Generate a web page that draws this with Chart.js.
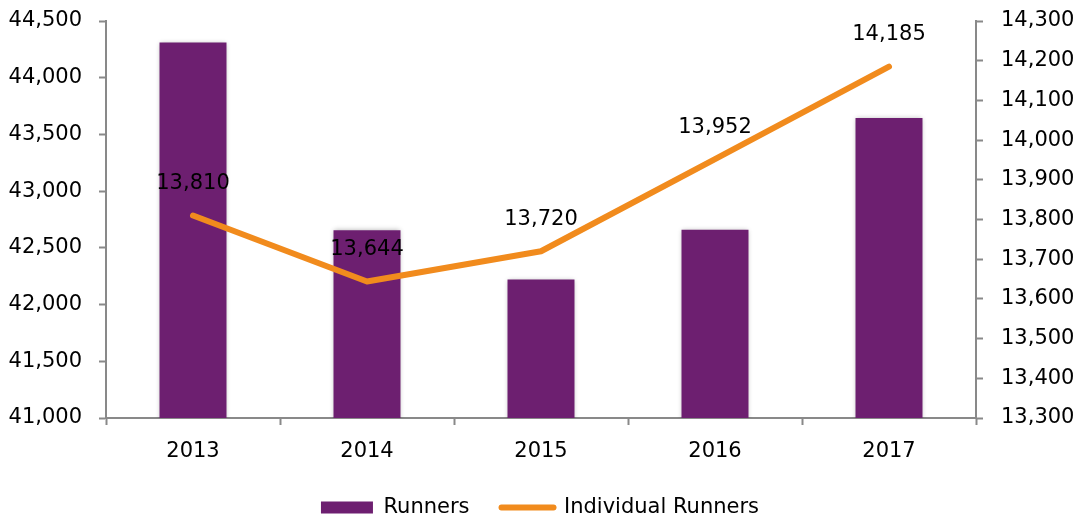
<!DOCTYPE html>
<html>
<head>
<meta charset="utf-8">
<script src="https://cdn.jsdelivr.net/npm/chart.js@4/dist/chart.umd.min.js"></script>
<style>
  html, body { margin: 0; padding: 0; background: #fff; }
  #wrap { width: 1080px; height: 519px; position: relative; }
</style>
</head>
<body>
<div id="wrap"><canvas id="runnersChart"></canvas></div>
<script>
const years = ["2013", "2014", "2015", "2016", "2017"];
const runners = [44310, 42655, 42220, 42660, 43645];
const individualRunners = [13810, 13644, 13720, 13952, 14185];

const purple = "#6D1F70";
const orange = "#F18B1D";
const axisGrey = "#898989";
const fontFamily = "'DejaVu Sans', sans-serif";

const fmt = v => v.toLocaleString("en-US");

// soft shadow round the bars
const barShadow = {
    id: "barShadow",
    beforeDatasetDraw(chart, args) {
        if (args.index !== 0) return;
        const ctx = chart.ctx;
        ctx.save();
        ctx.shadowColor = "rgba(0,0,0,0.3)";
        ctx.shadowBlur = 5;
    },
    afterDatasetDraw(chart, args) {
        if (args.index !== 0) return;
        chart.ctx.restore();
    }
};

// value labels above the line points
const lineLabels = {
    id: "lineLabels",
    afterDatasetsDraw(chart) {
        const ctx = chart.ctx;
        const meta = chart.getDatasetMeta(1);
        ctx.save();
        ctx.font = "21px " + fontFamily;
        ctx.fillStyle = "#000";
        ctx.textAlign = "center";
        ctx.textBaseline = "middle";
        meta.data.forEach((pt, i) => {
            ctx.fillText(fmt(individualRunners[i]), pt.x, pt.y - 32);
        });
        ctx.restore();
    }
};

const fitY = width => scale => {
    scale.width = width;
    scale.paddingTop = 0;
    scale.paddingBottom = 0;
};

const chart = new Chart(document.getElementById("runnersChart"), {
    data: {
        labels: years,
        datasets: [
            {
                type: "bar",
                label: "Runners",
                data: runners,
                backgroundColor: purple,
                borderWidth: 0,
                yAxisID: "y",
                order: 1,
                categoryPercentage: 1,
                barPercentage: 0.385
            },
            {
                type: "line",
                label: "Individual Runners",
                data: individualRunners,
                borderColor: orange,
                backgroundColor: orange,
                borderWidth: 6,
                borderCapStyle: "round",
                borderJoinStyle: "round",
                pointRadius: 0,
                pointHoverRadius: 0,
                tension: 0,
                yAxisID: "y1",
                order: 0
            }
        ]
    },
    options: {
        responsive: true,
        maintainAspectRatio: false,
        animation: false,
        layout: { padding: { top: 21, left: 0, right: 0, bottom: 0 } },
        scales: {
            x: {
                offset: true,
                grid: {
                    offset: true,
                    drawOnChartArea: false,
                    tickLength: 7,
                    tickColor: axisGrey,
                    tickWidth: 2
                },
                border: { color: axisGrey, width: 2 },
                ticks: { color: "#000", font: { family: fontFamily, size: 21 }, padding: 14 },
                afterFit: scale => { scale.height = 47; }
            },
            y: {
                position: "left",
                min: 41000,
                max: 44500,
                ticks: {
                    stepSize: 500,
                    color: "#000",
                    font: { family: fontFamily, size: 21 },
                    padding: 17,
                    callback: v => fmt(v)
                },
                grid: { drawOnChartArea: false, tickLength: 7, tickColor: axisGrey, tickWidth: 2 },
                border: { color: axisGrey, width: 2 },
                afterFit: fitY(106)
            },
            y1: {
                position: "right",
                min: 13300,
                max: 14300,
                ticks: {
                    stepSize: 100,
                    color: "#000",
                    font: { family: fontFamily, size: 21 },
                    padding: 18,
                    callback: v => fmt(v)
                },
                grid: { drawOnChartArea: false, tickLength: 7, tickColor: axisGrey, tickWidth: 2 },
                border: { color: axisGrey, width: 2 },
                afterFit: fitY(104)
            }
        },
        plugins: {
            tooltip: { enabled: false },
            legend: {
                position: "bottom",
                maxHeight: 54,
                labels: {
                    color: "#000",
                    font: { family: fontFamily, size: 21 },
                    usePointStyle: true,
                    pointStyleWidth: 52,
                    boxHeight: 12,
                    padding: 32,
                    sort: (a, b) => a.datasetIndex - b.datasetIndex,
                    generateLabels: chart => {
                        const items = Chart.defaults.plugins.legend.labels.generateLabels(chart);
                        items.forEach(item => {
                            if (item.datasetIndex === 0) {
                                item.pointStyle = "rect";
                                item.fillStyle = purple;
                                item.lineWidth = 0;
                            } else {
                                item.pointStyle = "line";
                                item.strokeStyle = orange;
                                item.lineWidth = 6;
                                item.lineCap = "round";
                            }
                        });
                        return items;
                    }
                }
            }
        }
    },
    plugins: [barShadow, lineLabels]
});
</script>
</body>
</html>
